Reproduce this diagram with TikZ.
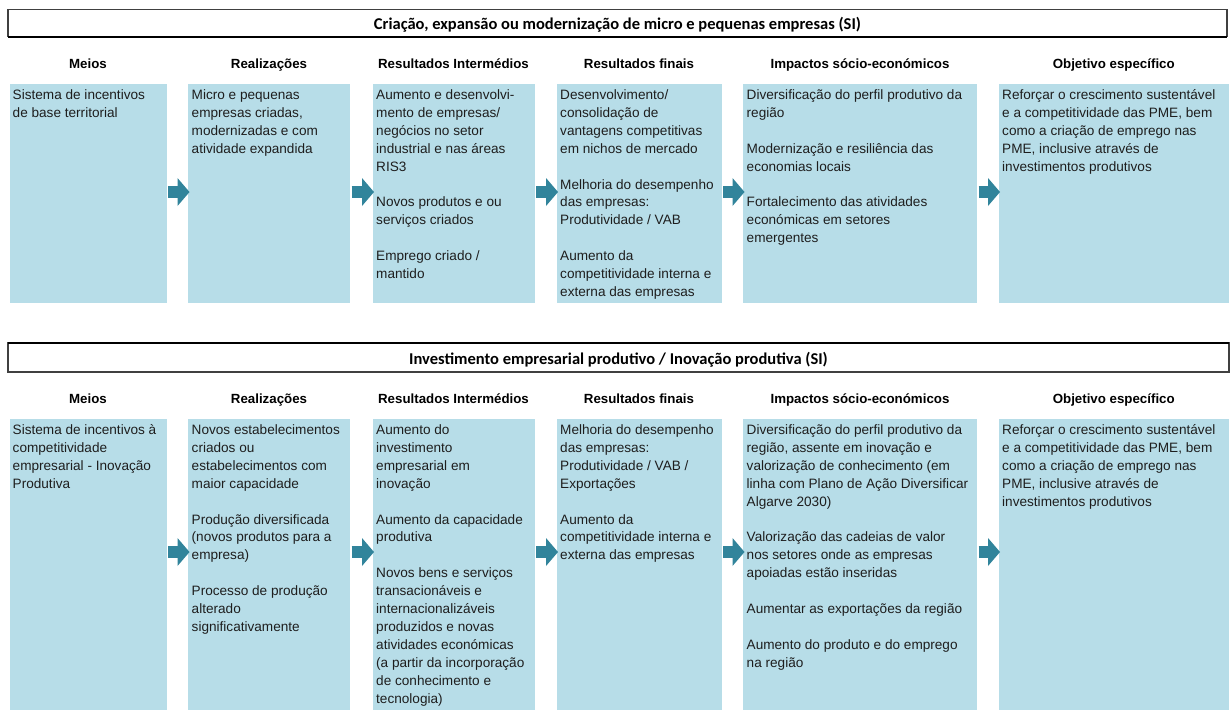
\documentclass[tikz,border=0pt]{standalone}
\usepackage{fontspec}
\setmainfont{Liberation Sans}
\newfontfamily\titlefont{Carlito}
\usetikzlibrary{arrows.meta}
\definecolor{boxblue}{RGB}{183,221,232}
\definecolor{arrowteal}{RGB}{49,132,155}
\definecolor{txt}{RGB}{30,30,30}
\begin{document}
\begin{tikzpicture}[x=1pt,y=-1pt,
 cell/.style={fill=boxblue, draw=none, anchor=north west, inner sep=0pt, outer sep=0pt},
 rowa/.style={minimum height=219pt},
 rowb/.style={minimum height=291pt},
 body/.style={anchor=north west, inner sep=0pt, align=left, text=txt, font=\fontsize{13.6}{17.9}\selectfont},
 head/.style={anchor=base, inner sep=0pt, text=black, font=\fontsize{13.3}{16}\selectfont\bfseries},
 titlebar/.style={draw=black!75, line width=1.2pt, fill=white, inner sep=0pt, outer sep=0pt, text height=13.6pt, text depth=0pt, font=\titlefont\fontsize{16.5}{20}\selectfont\bfseries},
 thickedge/.style={draw=black, line width=2.4pt},
 flowarrow/.style={draw=arrowteal, line width=12pt, shorten <=1.5pt, shorten >=-1.5pt, -{Triangle[width=28pt,length=12pt,line width=0pt]}}
]
\useasboundingbox[fill=white] (0,0) rectangle (1231,713);

% ---------- first block ----------
\node[titlebar, minimum width=1219pt, minimum height=27.4pt] (tb1) at (617.5,23)
  {Criação, expansão ou modernização de micro e pequenas empresas (SI)};
\draw[thickedge] (tb1.south west) -- (tb1.south east);

\node[cell,rowa,minimum width=157pt] (a1) at (9.5,84) {};
\node[cell,rowa,minimum width=162pt] (a2) at (188,84) {};
\node[cell,rowa,minimum width=162pt] (a3) at (372.5,84) {};
\node[cell,rowa,minimum width=165pt] (a4) at (556.5,84) {};
\node[cell,rowa,minimum width=234pt] (a5) at (743,84) {};
\node[cell,rowa,minimum width=230.5pt] (a6) at (998.5,84) {};

\node[head] (ha1) at (a1.north |- 0,68.5) {Meios};
\node[head] (ha2) at (a2.north |- 0,68.5) {Realizações};
\node[head] (ha3) at (a3.north |- 0,68.5) {Resultados Intermédios};
\node[head] (ha4) at (a4.north |- 0,68.5) {Resultados finais};
\node[head] (ha5) at (a5.north |- 0,68.5) {Impactos sócio-económicos};
\node[head] (ha6) at (a6.north |- 0,68.5) {Objetivo específico};

\node[body] (ta1) at ([xshift=3pt,yshift=-2.8pt]a1.north west)
  {\strut Sistema de incentivos\\de base territorial};
\node[body] (ta2) at ([xshift=3.5pt,yshift=-2.8pt]a2.north west)
  {\strut Micro e pequenas\\empresas criadas,\\modernizadas e com\\atividade expandida};
\node[body] (ta3) at ([xshift=3.5pt,yshift=-2.8pt]a3.north west)
  {\strut Aumento e desenvolvi-\\mento de empresas/\\negócios no setor\\industrial e nas áreas\\RIS3\\[17.9pt]
   Novos produtos e ou\\serviços criados\\[17.9pt]
   Emprego criado /\\mantido};
\node[body] (ta4) at ([xshift=3.5pt,yshift=-2.8pt]a4.north west)
  {\strut Desenvolvimento/\\consolidação de\\vantagens competitivas\\em nichos de mercado\\[17.9pt]
   Melhoria do desempenho\\das empresas:\\Produtividade / VAB\\[17.9pt]
   Aumento da\\competitividade interna e\\externa das empresas};
\node[body] (ta5) at ([xshift=3.5pt,yshift=-2.8pt]a5.north west)
  {\strut Diversificação do perfil produtivo da\\região\\[17.9pt]
   Modernização e resiliência das\\economias locais\\[17.9pt]
   Fortalecimento das atividades\\económicas em setores\\emergentes};
\node[body] (ta6) at ([xshift=3.5pt,yshift=-2.8pt]a6.north west)
  {\strut Reforçar o crescimento sustentável\\e a competitividade das PME, bem\\como a criação de emprego nas\\PME, inclusive através de\\investimentos produtivos};

\draw[flowarrow] (a1.east |- 0,192) -- (a2.west |- 0,192);
\draw[flowarrow] (a2.east |- 0,192) -- (a3.west |- 0,192);
\draw[flowarrow] (a3.east |- 0,192) -- (a4.west |- 0,192);
\draw[flowarrow] (a4.east |- 0,192) -- (a5.west |- 0,192);
\draw[flowarrow] (a5.east |- 0,192) -- (a6.west |- 0,192);

% ---------- second block ----------
\node[titlebar, minimum width=1221pt, minimum height=29pt] (tb2) at (618.5,357.5)
  {Investimento empresarial produtivo / Inovação produtiva (SI)};
\draw[thickedge] (tb2.north west) -- (tb2.north east);

\node[cell,rowb,minimum width=157pt] (b1) at (9.5,419) {};
\node[cell,rowb,minimum width=162pt] (b2) at (188,419) {};
\node[cell,rowb,minimum width=162pt] (b3) at (372.5,419) {};
\node[cell,rowb,minimum width=165pt] (b4) at (556.5,419) {};
\node[cell,rowb,minimum width=234pt] (b5) at (743,419) {};
\node[cell,rowb,minimum width=230.5pt] (b6) at (998.5,419) {};

\node[head] (hb1) at (b1.north |- 0,403.5) {Meios};
\node[head] (hb2) at (b2.north |- 0,403.5) {Realizações};
\node[head] (hb3) at (b3.north |- 0,403.5) {Resultados Intermédios};
\node[head] (hb4) at (b4.north |- 0,403.5) {Resultados finais};
\node[head] (hb5) at (b5.north |- 0,403.5) {Impactos sócio-económicos};
\node[head] (hb6) at (b6.north |- 0,403.5) {Objetivo específico};

\node[body] (tbx1) at ([xshift=3pt,yshift=-2.8pt]b1.north west)
  {\strut Sistema de incentivos à\\competitividade\\empresarial - Inovação\\Produtiva};
\node[body] (tbx2) at ([xshift=3.5pt,yshift=-2.8pt]b2.north west)
  {\strut Novos estabelecimentos\\criados ou\\estabelecimentos com\\maior capacidade\\[17.9pt]
   Produção diversificada\\(novos produtos para a\\empresa)\\[17.9pt]
   Processo de produção\\alterado\\significativamente};
\node[body] (tbx3) at ([xshift=3.5pt,yshift=-2.8pt]b3.north west)
  {\strut Aumento do\\investimento\\empresarial em\\inovação\\[17.9pt]
   Aumento da capacidade\\produtiva\\[17.9pt]
   Novos bens e serviços\\transacionáveis e\\internacionalizáveis\\produzidos e novas\\atividades económicas\\(a partir da incorporação\\de conhecimento e\\tecnologia)};
\node[body] (tbx4) at ([xshift=3.5pt,yshift=-2.8pt]b4.north west)
  {\strut Melhoria do desempenho\\das empresas:\\Produtividade / VAB /\\Exportações\\[17.9pt]
   Aumento da\\competitividade interna e\\externa das empresas};
\node[body] (tbx5) at ([xshift=3.5pt,yshift=-2.8pt]b5.north west)
  {\strut Diversificação do perfil produtivo da\\região, assente em inovação e\\valorização de conhecimento (em\\linha com Plano de Ação Diversificar\\Algarve 2030)\\[17.9pt]
   Valorização das cadeias de valor\\nos setores onde as empresas\\apoiadas estão inseridas\\[17.9pt]
   Aumentar as exportações da região\\[17.9pt]
   Aumento do produto e do emprego\\na região};
\node[body] (tbx6) at ([xshift=3.5pt,yshift=-2.8pt]b6.north west)
  {\strut Reforçar o crescimento sustentável\\e a competitividade das PME, bem\\como a criação de emprego nas\\PME, inclusive através de\\investimentos produtivos};

\draw[flowarrow] (b1.east |- 0,552) -- (b2.west |- 0,552);
\draw[flowarrow] (b2.east |- 0,552) -- (b3.west |- 0,552);
\draw[flowarrow] (b3.east |- 0,552) -- (b4.west |- 0,552);
\draw[flowarrow] (b4.east |- 0,552) -- (b5.west |- 0,552);
\draw[flowarrow] (b5.east |- 0,552) -- (b6.west |- 0,552);
\end{tikzpicture}
\end{document}
